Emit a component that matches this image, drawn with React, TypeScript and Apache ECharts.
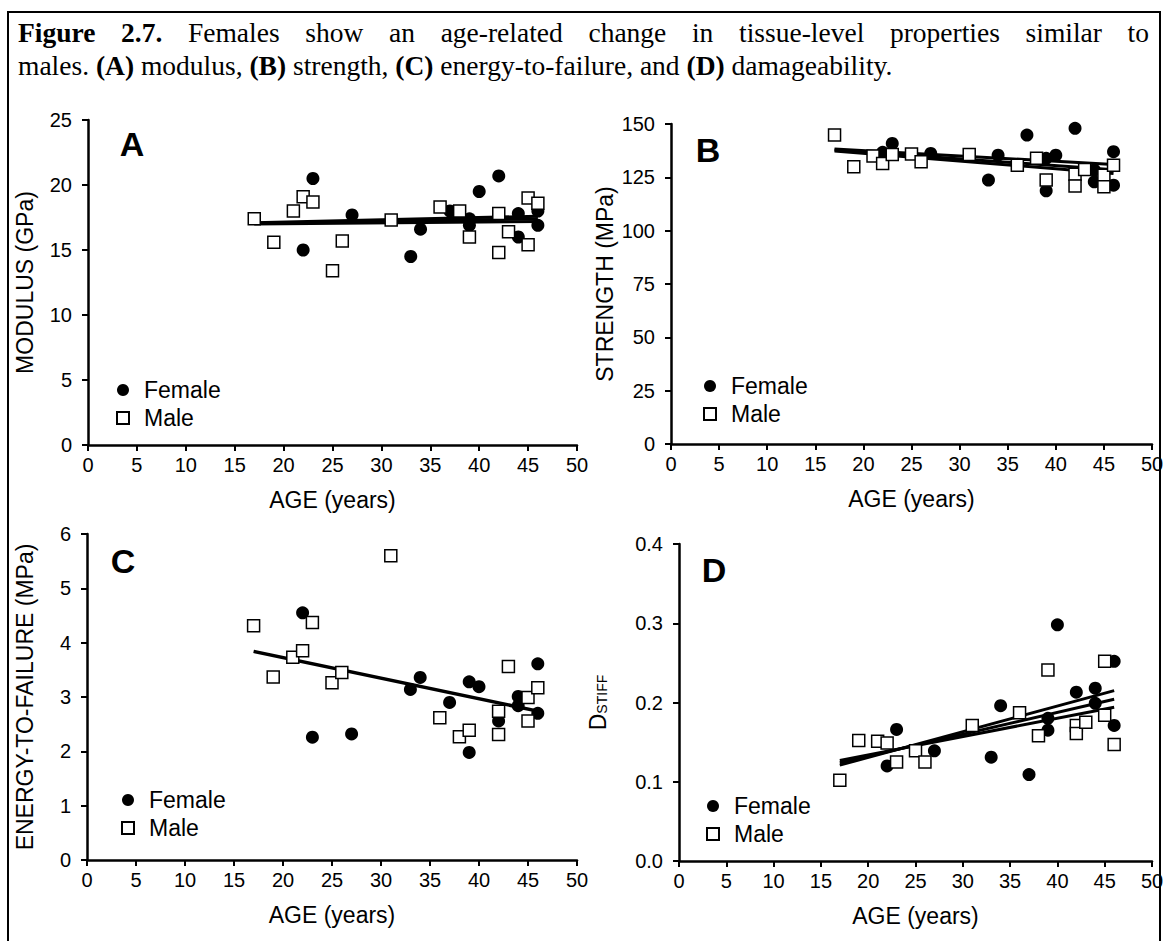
import React, { useEffect, useRef } from "react";
import * as echarts from "echarts";

// ---------------- data ----------------
const femaleModulus = [[22, 15.0], [23, 20.5], [27, 17.7], [33, 14.5], [34, 16.6], [37, 18.0], [39, 16.9], [39, 17.4], [40, 19.5], [42, 20.7], [44, 17.8], [44, 16.0], [46, 18.0], [46, 16.9]];
const maleModulus = [[17, 17.4], [19, 15.6], [21, 18.0], [22, 19.1], [23, 18.7], [25, 13.4], [26, 15.7], [31, 17.3], [36, 18.3], [38, 18.0], [39, 16.0], [42, 17.8], [42, 14.8], [43, 16.4], [45, 19.0], [45, 15.4], [46, 18.6]];
const fitsModulus = [[[17, 17.1], [46, 17.6]], [[17, 17.0], [46, 17.2]], [[17, 17.05], [46, 17.4]]];

const femaleStrength = [[22, 136.7], [23, 140.9], [27, 136.2], [33, 123.7], [34, 135.4], [37, 144.8], [39, 133.9], [39, 118.7], [40, 135.4], [42, 148.0], [44, 128.4], [44, 122.9], [46, 137.0], [46, 121.3]];
const maleStrength = [[17, 144.8], [19, 130.0], [21, 135.0], [22, 131.5], [23, 135.7], [25, 135.9], [26, 132.3], [31, 135.7], [36, 130.7], [38, 133.9], [39, 123.7], [42, 126.5], [42, 120.9], [43, 128.7], [45, 126.0], [45, 120.6], [46, 130.7]];
const fitsStrength = [[[17, 138.3], [46, 131.0]], [[17, 137.8], [46, 128.6]], [[17, 137.4], [46, 126.8]]];

const femaleEnergy = [[22, 4.55], [23, 2.26], [27, 2.32], [33, 3.14], [34, 3.36], [37, 2.9], [39, 3.28], [39, 1.98], [40, 3.19], [42, 2.56], [44, 3.01], [44, 2.84], [46, 3.61], [46, 2.7]];
const maleEnergy = [[17, 4.31], [19, 3.37], [21, 3.73], [22, 3.85], [23, 4.37], [25, 3.26], [26, 3.45], [31, 5.6], [36, 2.62], [38, 2.27], [39, 2.39], [42, 2.74], [42, 2.31], [43, 3.56], [45, 2.99], [45, 2.56], [46, 3.17]];
const fitsEnergy = [[[17, 3.84], [46, 2.74]]];

const femaleDamage = [[22, 0.12], [23, 0.166], [27, 0.139], [33, 0.131], [34, 0.196], [37, 0.109], [39, 0.165], [39, 0.18], [40, 0.298], [42, 0.213], [44, 0.218], [44, 0.199], [46, 0.252], [46, 0.171]];
const maleDamage = [[17, 0.102], [19, 0.152], [21, 0.151], [22, 0.149], [23, 0.125], [25, 0.139], [26, 0.125], [31, 0.171], [36, 0.187], [38, 0.158], [39, 0.241], [42, 0.171], [42, 0.161], [43, 0.175], [45, 0.252], [45, 0.184], [46, 0.147]];
const fitsDamage = [[[17, 0.121], [46, 0.215]], [[17, 0.124], [46, 0.204]], [[17, 0.127], [46, 0.194]]];

const panelLetters = ["A", "B", "C", "D"];
const yNames = ["MODULUS (GPa)", "STRENGTH (MPa)", "ENERGY-TO-FAILURE (MPa)", "{d|D}{s|STIFF}"];
const yMax = [25, 150, 6, 0.4];
const yInterval = [5, 25, 1, 0.1];
const xName = "AGE (years)";
const legendNames = ["Female", "Male"];

const captionLine1 = [
  { t: "Figure", b: true }, { t: "2.7.", b: true }, { t: "Females" }, { t: "show" }, { t: "an" },
  { t: "age-related" }, { t: "change" }, { t: "in" }, { t: "tissue-level" }, { t: "properties" },
  { t: "similar" }, { t: "to" },
];
const captionLine2 = "males. {b|(A)} modulus, {b|(B)} strength, {b|(C)} energy-to-failure, and {b|(D)} damageability.";

// ---------------- layout ----------------
const SANS = "'Liberation Sans', Arial, sans-serif";
const SERIF = "'Liberation Serif', 'Times New Roman', serif";
const grids = [
  { left: 88, top: 120, width: 489, height: 325 },
  { left: 671, top: 124, width: 481, height: 320 },
  { left: 87, top: 534, width: 490, height: 326 },
  { left: 679, top: 544, width: 473, height: 317 },
];
const yNameGaps = [52, 55, 51, 70];
const letterPos = [[132, 144], [708, 150], [123, 561], [714, 570]];
const legendPos = [[122, 390], [709, 386], [127, 800], [712, 806]];

function measure(text: string, font: string) {
  const c = document.createElement("canvas").getContext("2d")!;
  c.font = font;
  return c.measureText(text).width;
}

export default function App() {
  const ref = useRef<HTMLDivElement>(null);
  useEffect(() => {
    document.body.style.margin = "0";
    const chart = echarts.init(ref.current!, null, { renderer: "svg" });
    const females = [femaleModulus, femaleStrength, femaleEnergy, femaleDamage];
    const males = [maleModulus, maleStrength, maleEnergy, maleDamage];
    const fits = [fitsModulus, fitsStrength, fitsEnergy, fitsDamage];

    const series: any[] = [];
    for (let i = 0; i < 4; i++) {
      fits[i].forEach((f, k) => {
        series.push({
          type: "line", name: "fit" + i + "_" + k, data: f, xAxisIndex: i, yAxisIndex: i,
          symbol: "none", silent: true, z: 1, lineStyle: { color: "#000", width: fits[i].length === 1 ? 3.5 : 3 },
        });
      });
      series.push({
        type: "scatter", name: "Female", data: females[i], xAxisIndex: i, yAxisIndex: i,
        symbol: "circle", symbolSize: 13, z: 3, itemStyle: { color: "#000", opacity: 1 },
      });
      series.push({
        type: "scatter", name: "Male", data: males[i], xAxisIndex: i, yAxisIndex: i,
        symbol: "rect", symbolSize: 12, z: 3,
        itemStyle: { color: "#fff", borderColor: "#000", borderWidth: 1.5, opacity: 1 },
      });
    }

    const axisCommon = {
      axisLine: { show: true, onZero: false, lineStyle: { color: "#000", width: 2.5 } },
      axisTick: { show: true, inside: false, length: 6, lineStyle: { color: "#000", width: 2 } },
      splitLine: { show: false },
    };

    const xAxis = grids.map((_, i) => ({
      type: "value", gridIndex: i, min: 0, max: 50, interval: 5,
      ...axisCommon,
      axisLabel: { color: "#000", fontSize: 20, fontFamily: SANS, margin: 10 },
      name: xName, nameLocation: "middle", nameGap: 43,
      nameTextStyle: { color: "#000", fontSize: 23, fontFamily: SANS },
    }));
    const yAxis = grids.map((_, i) => ({
      type: "value", gridIndex: i, min: 0, max: yMax[i], interval: yInterval[i],
      ...axisCommon,
      axisLabel: {
        color: "#000", fontSize: 20, fontFamily: SANS, margin: 16,
        formatter: i === 3 ? (v: number) => v.toFixed(1) : (v: number) => String(v),
      },
      name: yNames[i], nameLocation: "middle", nameGap: yNameGaps[i],
      nameTextStyle: {
        color: "#000", fontSize: 23, fontFamily: SANS,
        rich: {
          d: { fontSize: 23, fontFamily: SANS, color: "#000" },
          s: { fontSize: 14, fontFamily: SANS, color: "#000", verticalAlign: "bottom" },
        },
      },
    }));

    const legend = legendPos.map(([cx, cy]) => ({
      left: cx - 6, top: cy - 12, padding: 0, orient: "vertical", itemWidth: 12, itemHeight: 12, itemGap: 4,
      selectedMode: false,
      data: [{ name: legendNames[0], icon: "circle" }, { name: legendNames[1], icon: "rect" }],
      textStyle: { color: "#000", fontSize: 23, fontFamily: SANS, lineHeight: 24, padding: [0, 0, 0, 10] },
    }));

    // caption
    const fs = 27.5;
    const x0 = 18, x1 = 1149;
    const widths = captionLine1.map((w) => measure(w.t, `${w.b ? "bold " : ""}${fs}px ${SERIF}`));
    const total = widths.reduce((a, b) => a + b, 0);
    const gap = (x1 - x0 - total) / (captionLine1.length - 1);
    let cx = x0;
    const graphics: any[] = [];
    captionLine1.forEach((w, k) => {
      graphics.push({
        type: "text", x: cx, y: 32,
        style: { text: w.t, fontSize: fs, fontFamily: SERIF, fontWeight: w.b ? "bold" : "normal", fill: "#000", verticalAlign: "middle", align: "left" },
      });
      cx += widths[k] + gap;
    });
    graphics.push({
      type: "text", x: x0, y: 65,
      style: {
        text: captionLine2, fontSize: fs, fontFamily: SERIF, fill: "#000", verticalAlign: "middle", align: "left",
        rich: { b: { fontSize: fs, fontFamily: SERIF, fontWeight: "bold", fill: "#000" } },
      },
    });
    graphics.push({
      type: "rect", shape: { x: 8, y: 12, width: 1152, height: 940 },
      style: { fill: "none", stroke: "#000", lineWidth: 2 }, z: -1,
    });
    letterPos.forEach(([lx, ly], i) => {
      graphics.push({
        type: "text", x: lx, y: ly,
        style: { text: panelLetters[i], fontSize: 34, fontWeight: "bold", fontFamily: SANS, fill: "#000", align: "center", verticalAlign: "middle" },
      });
    });

    chart.setOption({
      animation: false,
      backgroundColor: "#fff",
      grid: grids.map((g) => ({ ...g, outerBoundsMode: "none", containLabel: false })),
      xAxis, yAxis, legend, series, graphic: graphics,
    });
    return () => chart.dispose();
  }, []);
  return <div ref={ref} style={{ width: 1163, height: 941 }} />;
}
